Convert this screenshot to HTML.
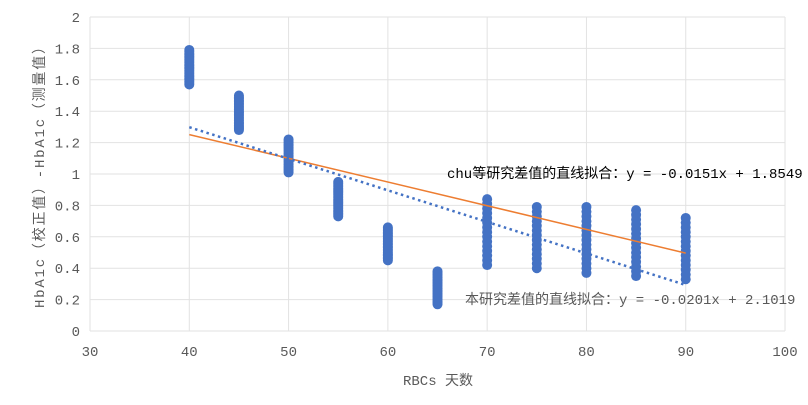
<!DOCTYPE html>
<html><head><meta charset="utf-8"><style>
body{margin:0;background:#fff;}
svg text{font-family:"Liberation Mono","Noto Sans CJK SC",monospace;}
</style></head><body>
<svg id="s" width="808" height="400" xmlns="http://www.w3.org/2000/svg">
<g id="grid" stroke="#e2e2e2" stroke-width="1"></g>
<g id="lbl" fill="#595959" font-size="14"></g>
<g id="dots" fill="#4472c4"></g>
<line x1="189.3" y1="134.6" x2="685.7" y2="253.1" stroke="#ed7d31" stroke-width="1.5"/>
<line x1="189.3" y1="127.2" x2="685.7" y2="285.0" stroke="#4472c4" stroke-width="2.5" stroke-dasharray="2.5,3.5"/>
<text x="447" y="178" font-size="14" fill="#000">chu等研究差值的直线拟合：y = -0.0151x + 1.8549</text>
<text x="465" y="304" font-size="14" fill="#595959">本研究差值的直线拟合：y = -0.0201x + 2.1019</text>
<text x="438" y="385" font-size="14" fill="#595959" text-anchor="middle">RBCs 天数</text>
<text transform="translate(44,174) rotate(-90)" font-size="14" fill="#595959" text-anchor="middle" textLength="268" lengthAdjust="spacing">HbA1c（校正值）-HbA1c（测量值）</text>
</svg>
<script>
var ns="http://www.w3.org/2000/svg";
function X(x){return 90+9.929*(x-30);}
function Y(v){return 331-157*v;}
var g=document.getElementById('grid'),l=document.getElementById('lbl'),d=document.getElementById('dots');
function el(p,t,a){var e=document.createElementNS(ns,t);for(var k in a)e.setAttribute(k,a[k]);p.appendChild(e);return e;}
for(var i=0;i<=10;i++){var v=i*0.2,y=Y(v);el(g,'line',{x1:90,x2:785,y1:y,y2:y});
var t=el(l,'text',{x:80,y:y+5,'text-anchor':'end'});t.textContent=(i==0?'0':(i==5?'1':(i==10?'2':v.toFixed(1))));}
for(var x=30;x<=100;x+=10){var xx=X(x);el(g,'line',{x1:xx,x2:xx,y1:17,y2:331});
var t=el(l,'text',{x:xx,y:356,'text-anchor':'middle'});t.textContent=x;}
var cols=[[40,1.57,1.79,0.01],[45,1.28,1.50,0.01],[50,1.01,1.22,0.01],[55,0.73,0.95,0.01],[60,0.45,0.66,0.01],[65,0.17,0.38,0.01],
[70,0.42,0.84,0.03],[75,0.40,0.81,0.03],[80,0.37,0.79,0.03],[85,0.35,0.77,0.03],[90,0.33,0.74,0.03]];
cols.forEach(function(c){for(var v=c[1];v<=c[2]+0.001;v+=c[3])el(d,'circle',{cx:X(c[0]),cy:Y(v),r:5});});
</script>
</body></html>
